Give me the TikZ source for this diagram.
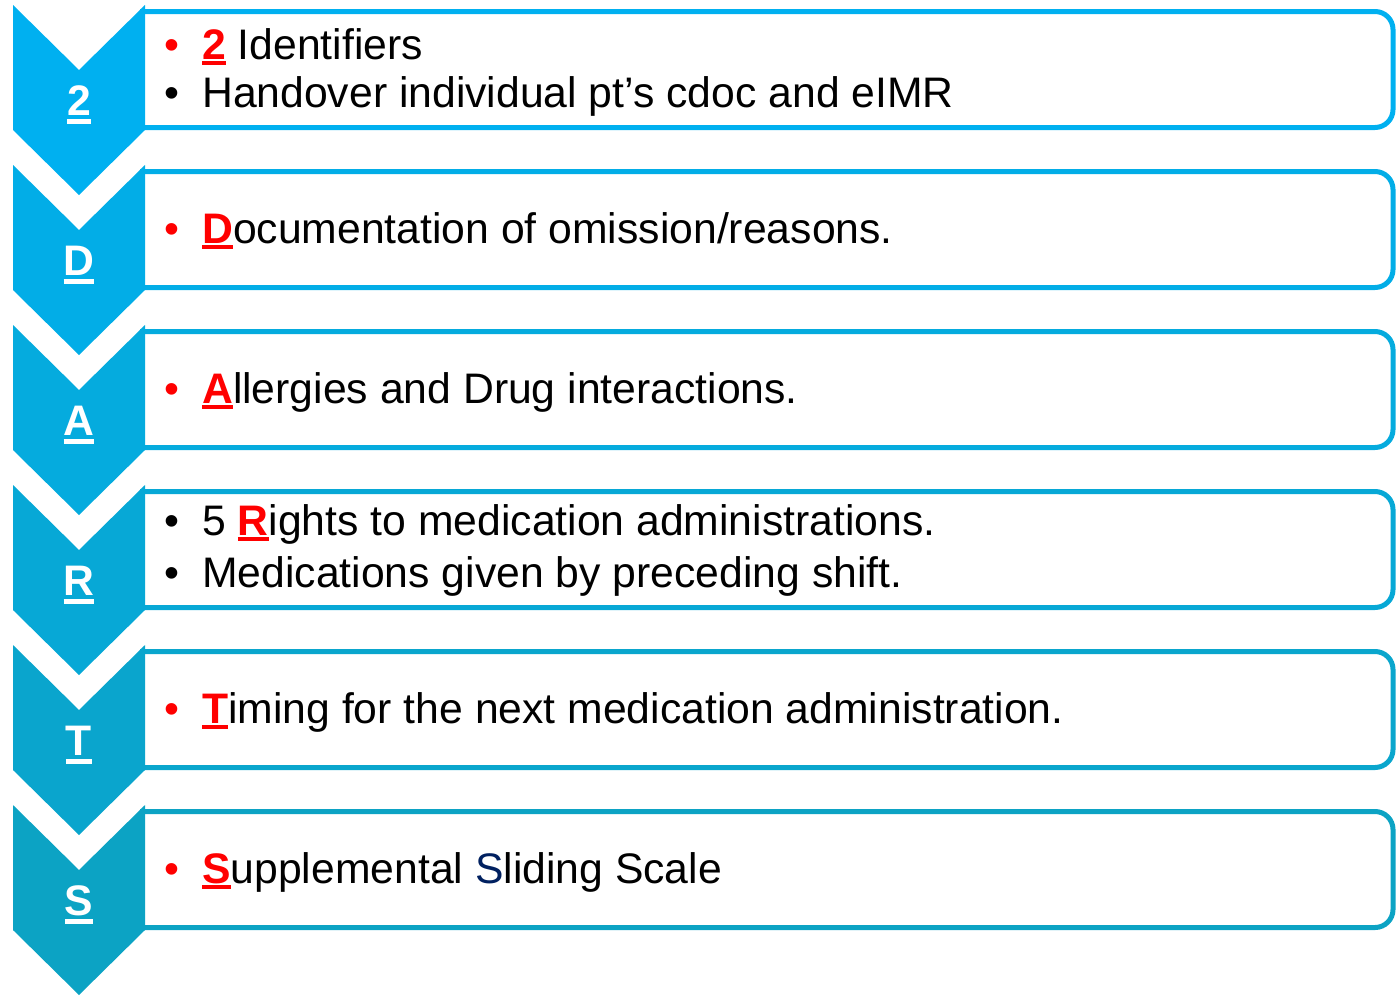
\documentclass[tikz,border=0pt]{standalone}
\usepackage{fontspec}
\setmainfont{Liberation Sans}
\definecolor{cA}{RGB}{0,176,240}
\definecolor{cB}{RGB}{12,163,196}
\definecolor{keyred}{RGB}{255,0,0}
\definecolor{dblue}{RGB}{0,32,96}
\newcommand\keyl[3]{\setbox0\hbox{\bfseries #3}\rlap{\color{#1}\rule[#2]{\wd0}{0.1em}}{\color{#1}\box0}}
\begin{document}
\begin{tikzpicture}[x=1pt,y=-1pt,
  bodytext/.style={anchor=base west,inner sep=0pt,font=\fontsize{42.7}{50}\selectfont,text=black},
  bul/.style={anchor=base,inner sep=0pt,font=\fontsize{42.7}{50}\selectfont},
  chevlab/.style={anchor=base,inner sep=0pt,font=\fontsize{42.7}{50}\selectfont},
  boxline/.style={line width=5pt,rounded corners=18pt,fill=white}]
\useasboundingbox (0,0) rectangle (1397,996);
\foreach \i/\lab in {0/2,1/D,2/A,3/R,4/T,5/S}{
  \pgfmathsetmacro\yo{5+160*\i}
  \pgfmathtruncatemacro\pc{20*\i}
  \colorlet{rc}{cB!\pc!cA}
  \draw[boxline,draw=rc] (140,\yo+6.5) -- (1393,\yo+6.5) -- (1393,\yo+122.5) -- (140,\yo+122.5);
  \fill[rc] (13,\yo) -- (79,\yo+65) -- (145,\yo) -- (145,\yo+125) -- (79,\yo+190) -- (13,\yo+125) -- cycle;
  \node[chevlab] (lab\i) at (79,\yo+110) {\keyl{white}{-0.2em}{\lab}};
}
% row 1
\node[bul,text=keyred] (b1a) at (172,59) {•};
\node[bodytext] (t1a) at (202,59) {\keyl{keyred}{-0.15em}{2} Identifiers};
\node[bul] (b1b) at (172,107) {•};
\node[bodytext] (t1b) at (202,107) {Handover individual pt’s cdoc and eIMR};
% row 2
\node[bul,text=keyred] (b2) at (172,243) {•};
\node[bodytext] (t2) at (202,243) {\keyl{keyred}{-0.15em}{D}ocumentation of omission/reasons.};
% row 3
\node[bul,text=keyred] (b3) at (172,403) {•};
\node[bodytext] (t3) at (202,403) {\keyl{keyred}{-0.15em}{A}llergies and Drug interactions.};
% row 4
\node[bul] (b4a) at (172,535) {•};
\node[bodytext] (t4a) at (202,535) {5 \keyl{keyred}{-0.15em}{R}ights to medication administrations.};
\node[bul] (b4b) at (172,587) {•};
\node[bodytext] (t4b) at (202,587) {Medications given by preceding shift.};
% row 5
\node[bul,text=keyred] (b5) at (172,723) {•};
\node[bodytext] (t5) at (202,723) {\keyl{keyred}{-0.15em}{T}iming for the next medication administration.};
% row 6
\node[bul,text=keyred] (b6) at (172,883) {•};
\node[bodytext] (t6) at (202,883) {\keyl{keyred}{-0.15em}{S}upplemental \textcolor{dblue}{S}liding Scale};
\end{tikzpicture}
\end{document}
